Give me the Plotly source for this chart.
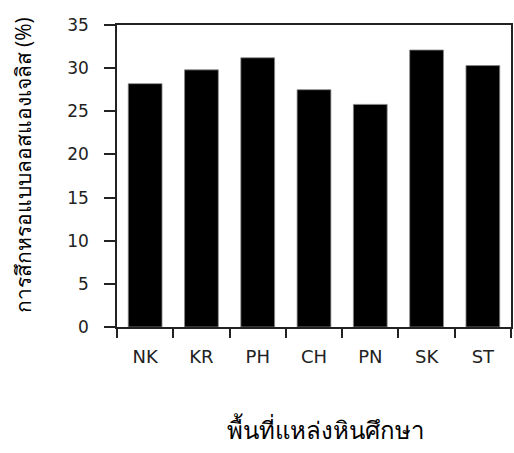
import plotly.graph_objects as go

# Los Angeles abrasion by rock source area
sites = ["NK", "KR", "PH", "CH", "PN", "SK", "ST"]
abrasion = [28.2, 29.8, 31.2, 27.5, 25.8, 32.1, 30.3]
y_ticks = [0, 5, 10, 15, 20, 25, 30, 35]

fig = go.Figure(
    go.Bar(
        x=sites,
        y=abrasion,
        marker=dict(color="black", line=dict(color="#888888", width=0.8)),
        width=0.6,
    )
)

line_color = "#222222"

fig.update_layout(
    template="none",
    width=514,
    height=453,
    margin=dict(l=117, r=3, t=25, b=126),
    plot_bgcolor="white",
    paper_bgcolor="white",
    showlegend=False,
    xaxis=dict(
        automargin=False,
        showline=True,
        linecolor=line_color,
        linewidth=1.5,
        mirror=True,
        ticks="outside",
        ticklen=9,
        tickwidth=1.5,
        tickcolor=line_color,
        tickson="boundaries",
        tickfont=dict(family="DejaVu Sans", size=18, color="#222222"),
        ticklabelstandoff=13,
        showgrid=False,
        zeroline=False,
    ),
    yaxis=dict(
        automargin=False,
        range=[0, 35],
        tickvals=y_ticks,
        showline=True,
        linecolor=line_color,
        linewidth=1.5,
        mirror=True,
        ticks="outside",
        ticklen=11,
        tickwidth=1.5,
        tickcolor=line_color,
        tickfont=dict(family="DejaVu Sans", size=17, color="#222222"),
        ticklabelstandoff=12,
        showgrid=False,
        zeroline=False,
    ),
    annotations=[
        dict(
            text="พื้นที่แหล่งหินศึกษา",
            xref="paper", yref="paper",
            x=0.530, y=-0.34,
            xanchor="center", yanchor="middle",
            showarrow=False,
            font=dict(size=24, color="black"),
        ),
        dict(
            text="การสึกหรอแบบลอสแองเจลิส (%)",
            xref="paper", yref="paper",
            x=-0.2386, y=0.535,
            xanchor="center", yanchor="middle",
            textangle=-90,
            showarrow=False,
            font=dict(size=21, color="black"),
        ),
    ],
)

fig.write_html("out.html")
